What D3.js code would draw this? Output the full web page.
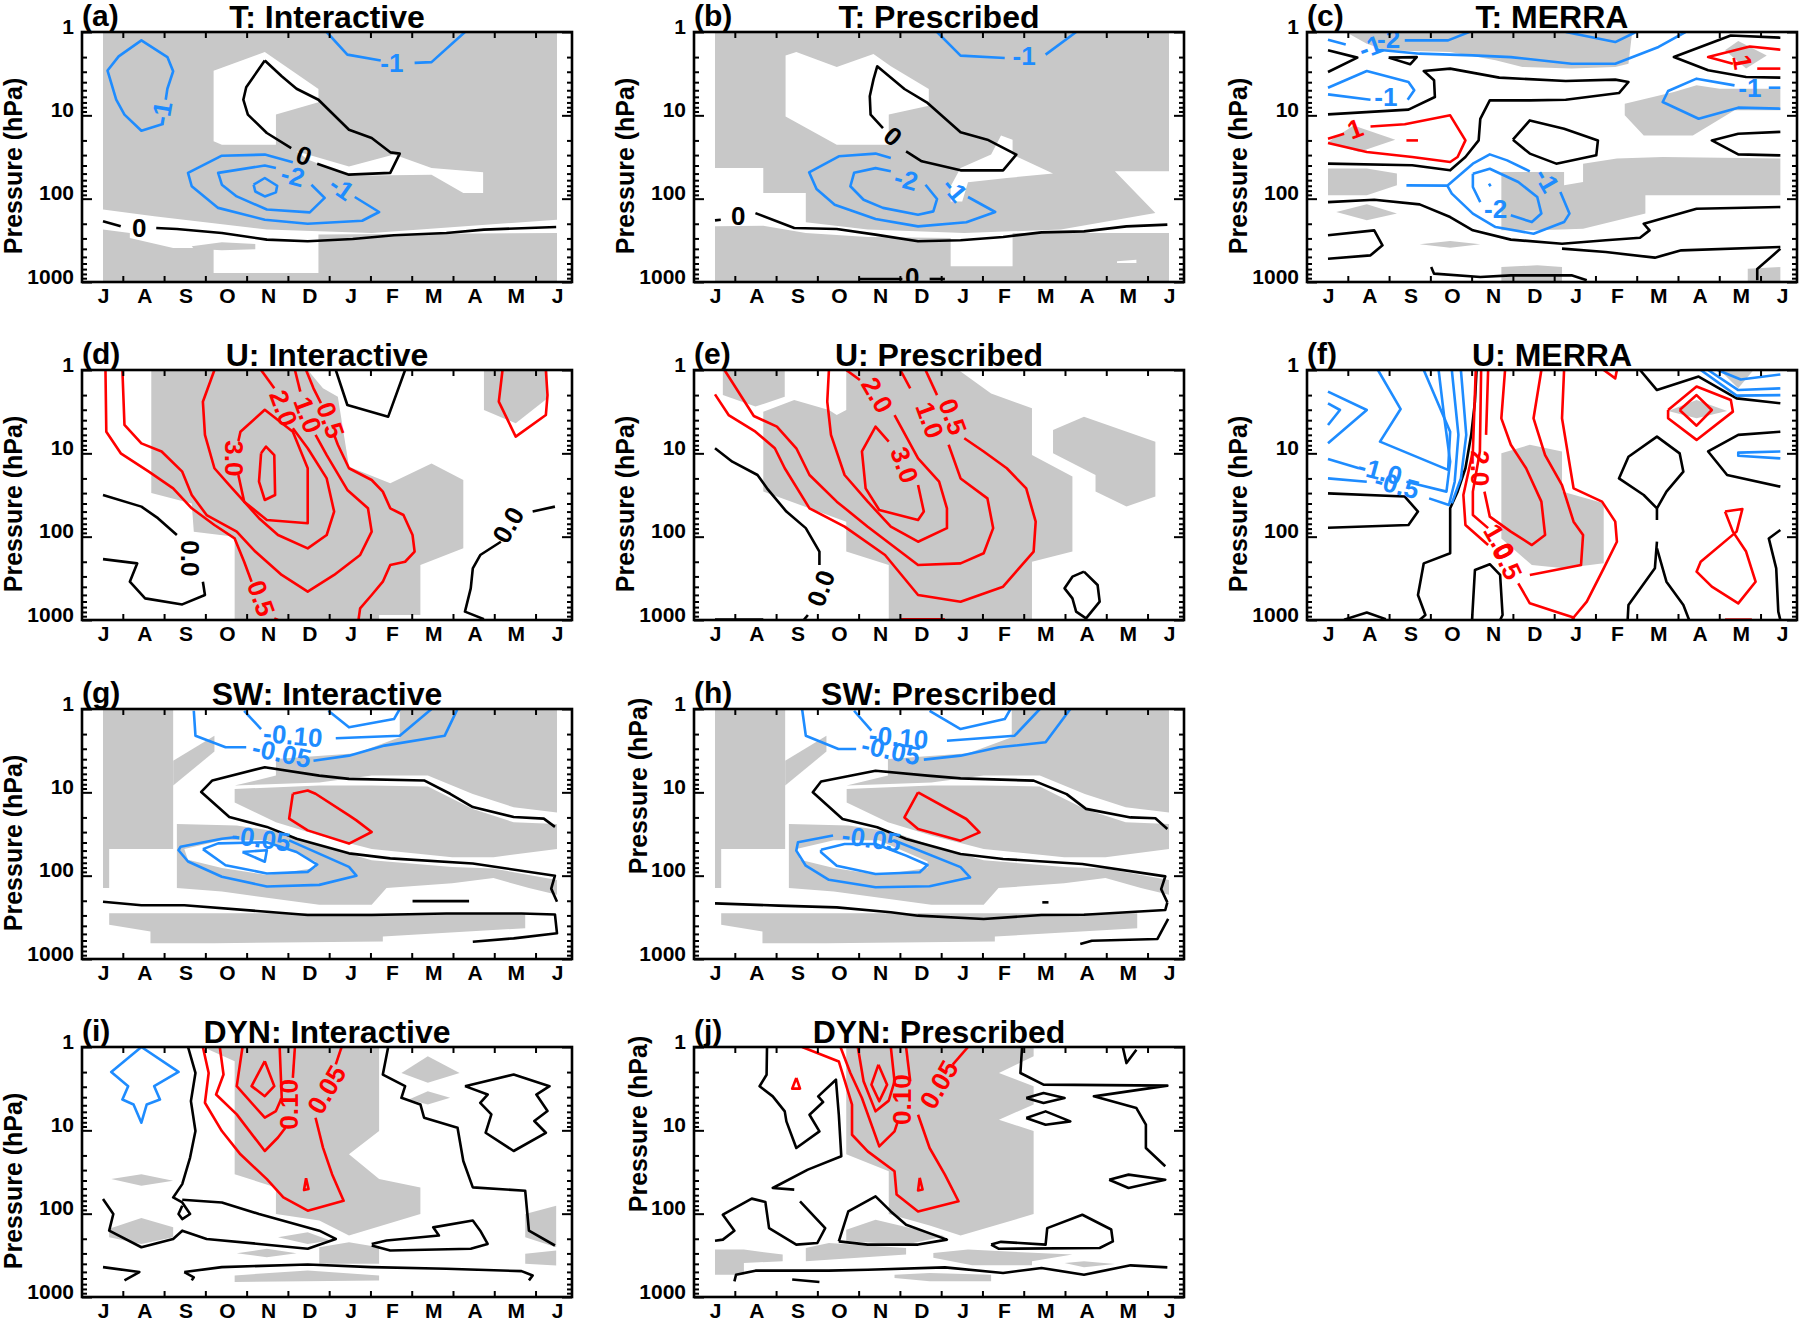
<!DOCTYPE html>
<html>
<head>
<meta charset="utf-8">
<script src="https://cdn.jsdelivr.net/npm/d3@7"></script>
<style>
body { margin: 0; background: #fff; }
text { font-family: "Liberation Sans", Arial, Helvetica, sans-serif; font-weight: bold; }
</style>
</head>
<body>
<svg id="chart"></svg>
<script>
// month labels (July to June) and pressure ticks
const months = ['J', 'A', 'S', 'O', 'N', 'D', 'J', 'F', 'M', 'A', 'M', 'J']
const pressureTicks = [1, 10, 100, 1000]
const minorTicks = [2, 3, 4, 5, 6, 7, 8, 9, 20, 30, 40, 50, 60, 70, 80, 90, 200, 300, 400, 500, 600, 700, 800, 900]
const monthEdges = [0.48, 1.48, 2.48, 3.48, 4.48, 5.48, 6.48, 7.48, 8.48, 9.48, 10.48]

// every point is [month index (0 = July), pressure hPa]
const full = [[0, 1], [11, 1], [11, 1000], [0, 1000]]

// (a) T: Interactive
const aShade = [full]
const aClear = [
  [[2.68, 2.91], [3.92, 1.74], [5.22, 4.83], [5.22, 6.98], [4.19, 9.8], [4.19, 22.5], [2.88, 22.5], [2.68, 20.5]],
  [[4.69, 27], [5.96, 41], [7.05, 29.6], [7.96, 42.9], [9.21, 48.3], [9.21, 85.5], [8.73, 85.5], [7.96, 51.5], [5.96, 53], [4.96, 34]],
  [[0, 135], [1.24, 163], [3.97, 235], [6.51, 258], [11, 179], [11, 258], [5.22, 270], [5.22, 780], [2.68, 780], [2.68, 391], [1.7, 391], [0.65, 297], [0.65, 258], [0, 235]]
]
const aInner = [[[2.15, 373], [2.88, 334], [3.69, 350], [3.69, 405], [2.88, 417], [2.2, 400]]]
const aBlue = [
  [[1.47, 12.6], [0.93, 15.3], [0.52, 9.8], [0.32, 6.5], [0.11, 2.9], [0.38, 1.96], [0.93, 1.26], [1.56, 2.0], [1.7, 2.96], [1.56, 4.8], [1.52, 6.5]],
  [[5.42, 1], [5.92, 1.87], [6.73, 2.2]],
  [[7.55, 2.35], [7.96, 2.3], [8.77, 1]],
  [[6.1, 95.5], [6.69, 144.5], [6.28, 184], [4.96, 200], [3.92, 179], [2.79, 129], [2.15, 71], [2.06, 49], [2.88, 30.5], [3.92, 29.6], [4.6, 36.6]],
  [[5.05, 68], [5.37, 98], [5.01, 146], [3.97, 135], [3.24, 94], [2.88, 68], [2.79, 49], [3.92, 40], [4.19, 42.9]],
  [[3.65, 68], [3.92, 56.5], [4.22, 70], [4.19, 84], [3.92, 94], [3.69, 82], [3.65, 68]]
]
const aBlueLabels = [[1.42, 9.4, '-1', -80], [7.0, 2.35, '-1', 0], [5.78, 74.5, '-1', 35], [4.6, 53, '-2', 15]]
const aBlack = [
  [[3.92, 2.2], [4.33, 3.4], [4.69, 4.8], [5.22, 6.5], [5.96, 14.9], [6.51, 18.7], [6.96, 27.8], [7.19, 28.8], [6.96, 49], [5.96, 51.5], [5.19, 38]],
  [[4.56, 24.7], [3.97, 16.3], [3.51, 9.8], [3.4, 6.5], [3.47, 4.6], [3.92, 2.2]],
  [[0, 187], [0.43, 215]],
  [[1.29, 225], [1.79, 231], [2.88, 258], [3.97, 310], [4.96, 325], [6.05, 305], [7.05, 275], [8.32, 258], [9.23, 235], [10.98, 219]]
]
const aBlackLabels = [[4.87, 30.5, '0', 20], [0.88, 225, '0', 0]]

// (b) T: Prescribed
const bShade = [full]
const bClear = [
  [[1.71, 1.92], [1.97, 1.74], [2.95, 2.63], [3.84, 1.84], [4.26, 2.58], [5.18, 4.83], [5.18, 7.65], [4.21, 9.8], [4.21, 22.5], [2.95, 22.5], [1.71, 10.3]],
  [[6.93, 17.5], [7.21, 19.6], [7.21, 29.6], [8.19, 50], [7.07, 56.5], [6.13, 63.7], [5.99, 108], [5.71, 108], [5.71, 71], [5.95, 42.9], [6.69, 29.6]],
  [[0, 42.9], [1.17, 42.9], [1.17, 85.5], [2.2, 85.5], [2.2, 192], [3.7, 235], [6.04, 258], [8.38, 235], [10.67, 149], [9.69, 47], [11, 47], [11, 258], [7.21, 258], [7.21, 649], [5.71, 649], [5.71, 297], [3.7, 288], [2.2, 258], [1.17, 211], [0, 215]],
  [[9.74, 565], [10.21, 540], [10.21, 592], [9.74, 592]]
]
const bBlue = [
  [[5.38, 1], [5.95, 1.92], [7.02, 2.05]],
  [[8.01, 1.87], [8.75, 1]],
  [[6.13, 95.5], [6.79, 144.5], [6.09, 192], [4.92, 215], [3.89, 175], [2.9, 118], [2.46, 76.6], [2.28, 48.3], [3.0, 31], [3.89, 28.8], [4.26, 32.5]],
  [[5.1, 68], [5.38, 101], [5.29, 142], [4.92, 156], [4.07, 129], [3.6, 103], [3.28, 71], [3.37, 49], [3.89, 43], [4.26, 47]]
]
const bBlueLabels = [[7.49, 1.96, '-1', 0], [5.81, 78, '-1', 50], [4.63, 59, '-2', 15]]
const bBlack = [
  [[4.63, 27], [5.01, 35.6], [5.95, 45.7], [6.98, 45.7], [7.3, 29.6], [6.6, 19.6], [5.95, 16], [5.15, 7.1], [4.59, 4.83], [3.93, 2.58], [3.84, 3.7], [3.75, 5.9], [3.77, 9.8], [4.07, 14.2]],
  [[0, 182], [0.14, 179]],
  [[0.98, 149], [1.92, 225], [2.95, 231], [3.89, 270], [4.92, 325], [5.95, 316], [6.98, 288], [7.91, 254], [8.94, 247], [9.97, 215], [10.96, 205]],
  [[3.51, 920], [4.54, 920]],
  [[5.2, 920], [5.57, 920]]
]
const bBlackLabels = [[4.31, 17.9, '0', 40], [0.56, 160, '0', 0], [4.78, 871, '0', 0]]

// (c) T: MERRA
const cShade = [
  [[0.43, 1], [7.37, 1], [7.28, 2.4], [6.96, 2.63], [5.9, 2.75], [4.71, 2.63], [4.06, 2.19], [2.96, 1.74], [1.4, 1.66], [0.94, 1.38]],
  [[9.62, 1.66], [9.94, 1.28], [10.63, 1.91], [10.13, 2.75]],
  [[7.19, 7.24], [8.38, 5.25], [8.93, 4.37], [9.49, 4.79], [10.96, 4.79], [10.96, 8.7], [9.85, 8.7], [8.84, 17.4], [7.65, 17.4], [7.19, 10]],
  [[0, 20.9], [0.62, 13.2], [1.63, 19.6], [0.75, 27.5]],
  [[0, 43.6], [0.94, 43.6], [1.67, 50], [1.67, 69], [0.94, 91], [0, 91]],
  [[4.2, 47.9], [5.72, 47.9], [5.72, 69], [6.18, 63], [6.18, 38], [7.0, 33], [8.11, 31.6], [10.96, 33], [10.96, 91], [7.69, 91], [7.69, 151], [6.18, 229], [5.07, 240], [4.2, 240]],
  [[0.2, 145], [0.94, 117], [1.67, 151], [0.94, 182]],
  [[2.22, 353], [2.96, 322], [3.69, 353], [2.96, 387]],
  [[4.2, 661], [5.07, 631], [5.67, 661], [5.67, 1000], [4.2, 1000]],
  [[10.17, 692], [10.96, 661], [10.96, 1000], [10.17, 1000]]
]
const cBlue = [
  [[0, 1.24], [0.43, 1.41]],
  [[1.86, 1.26], [2.91, 1.26], [3.42, 1.0]],
  [[1.21, 1.63], [2.22, 1.82], [3.51, 1.91], [4.43, 2.0], [5.9, 2.4], [6.96, 2.4], [8.01, 1.51], [8.66, 1.0]],
  [[5.76, 1.0], [6.96, 1.32], [7.46, 1.0]],
  [[1.93, 6.49], [2.09, 5.01], [1.95, 3.98], [0.94, 2.94], [0, 4.66]],
  [[1.03, 6.49], [0, 5.6]],
  [[10.96, 4.66], [10.68, 4.66]],
  [[9.85, 4.37], [8.93, 3.63], [8.24, 5.1], [8.11, 6.92], [8.98, 11], [9.94, 8.09], [10.96, 8.32]],
  [[1.9, 69.2], [2.89, 69.8], [3.51, 38], [3.92, 29.4], [4.34, 34.7], [4.89, 47]],
  [[5.63, 83.2], [5.85, 151], [5.72, 191], [4.98, 263], [4.06, 219], [3.51, 151], [3.0, 87.1], [2.89, 69.8]],
  [[3.51, 50.1], [3.92, 43.7], [4.61, 63.1], [5.07, 95.5], [5.17, 151], [4.94, 191], [4.43, 158]],
  [[3.69, 110], [3.51, 72.4], [3.51, 50.1]],
  [[3.9, 66], [3.94, 71]]
]
const cBlueLabels = [[1.03, 1.51, '-1', -20], [1.47, 1.2, '-2', 0], [1.4, 6.03, '-1', 0], [10.22, 4.66, '-1', 0], [5.3, 60.3, '-1', 60], [4.06, 132, '-2', 0]]
const cRed = [
  [[0, 19.1], [0.39, 16.6]],
  [[1.03, 13.6], [1.86, 12.8], [2.96, 10], [3.33, 20], [3.14, 31.6], [2.96, 36.3], [2.04, 31.6], [0.94, 27.5], [0, 21.5]],
  [[1.9, 20], [2.18, 20]],
  [[10.96, 1.63], [10.22, 1.49], [9.21, 2.0], [9.81, 2.4]],
  [[10.4, 2.75], [10.96, 2.75]]
]
const cRedLabels = [[0.66, 14.5, '1', -20], [10.04, 2.29, '1', 80]]
const cBlack = [
  [[0, 1.66], [0.71, 2.03], [0, 3.02]],
  [[1.47, 2.03], [2.15, 2.0], [1.99, 2.44], [1.47, 2.03]],
  [[0, 9.73], [1.95, 8.55], [2.59, 6.03], [2.57, 3.8], [2.32, 2.94], [2.96, 2.75], [4.15, 3.53], [5.76, 3.87], [6.96, 3.73], [7.28, 3.98], [7.05, 5.4], [5.76, 6.49], [4.89, 6.61], [3.92, 6.61], [3.69, 11], [3.65, 20], [3.33, 31.6], [2.96, 45.7], [2.04, 39.8], [0, 38]],
  [[4.48, 19.6], [4.89, 11.5], [5.72, 14.5], [6.54, 20], [6.5, 30.2], [5.53, 38], [4.89, 28.8], [4.48, 19.6]],
  [[10.96, 1.17], [9.76, 1.1], [8.38, 2.0], [9.21, 2.88], [10.13, 3.47], [10.96, 3.53]],
  [[10.96, 15.8], [9.94, 16.6], [9.3, 20], [9.94, 29.4], [10.96, 30.2]],
  [[0, 110], [1.12, 103], [2.22, 117], [2.96, 166], [3.51, 240], [4.43, 310], [5.67, 347], [6.73, 316], [7.56, 294], [7.79, 240], [7.65, 200], [8.93, 132], [10.96, 126]],
  [[0, 275], [1.12, 240], [1.32, 363], [1.03, 479], [0, 525]],
  [[5.67, 398], [6.73, 437], [7.92, 510], [8.56, 417], [10.96, 380]],
  [[2.5, 661], [2.57, 794], [3.69, 871], [4.43, 832], [5.9, 832], [6.27, 955]],
  [[10.4, 955], [10.4, 700], [10.96, 400]]
]

// (d) U: Interactive
const dShade = [
  [[1.17, 1], [4.96, 1], [5.33, 1.66], [5.69, 2.09], [5.96, 14.5], [6.96, 22.9], [7.96, 13.2], [8.73, 20.9], [8.73, 138], [7.69, 219], [7.69, 871], [6.69, 871], [6.69, 1000], [3.19, 1000], [3.19, 100], [2.2, 87], [2.15, 40], [1.17, 30]],
  [[9.23, 1], [10.77, 1], [10.77, 2.19], [10.0, 4.37], [9.23, 3.02]]
]
const dRed = [
  [[0.06, 1], [0.08, 5.5], [0.43, 10], [1.11, 16.6], [1.7, 26.3], [2.15, 45.7], [2.7, 72.4], [3.19, 105], [3.42, 200], [3.6, 347]],
  [[4.15, 955], [4.24, 1000]],
  [[6.19, 1000], [6.23, 724], [6.51, 501], [6.78, 347], [6.96, 219], [7.32, 200], [7.55, 151], [7.5, 95.5], [7.28, 55], [6.96, 45.7], [6.78, 28.8], [6.51, 20.9], [5.96, 15.1], [5.69, 7.9], [5.6, 6.0]],
  [[5.28, 2.5], [5.1, 1.66], [4.92, 1]],
  [[4.65, 1], [4.78, 1.82]],
  [[5.15, 6.0], [5.42, 10.5], [5.92, 27.5], [6.42, 45.7], [6.51, 87], [6.23, 166], [5.6, 288], [4.96, 457], [4.33, 288], [3.69, 151], [3.24, 87], [2.51, 55], [2.15, 31.6], [1.92, 16.6], [1.42, 9.5], [0.93, 7.6], [0.52, 4.57], [0.47, 1]],
  [[3.83, 1], [4.15, 1.66]],
  [[4.6, 5.0], [4.96, 8.7], [5.42, 20], [5.6, 50], [5.42, 95.5], [4.96, 138], [4.24, 95.5], [3.78, 60], [3.06, 24], [2.7, 15.1], [2.47, 6.0], [2.42, 2.4], [2.7, 1]],
  [[3.28, 18.2], [3.42, 38], [3.97, 63], [4.96, 69], [4.96, 15.1], [4.6, 5.5], [3.92, 3.0], [3.33, 5.5], [3.28, 7.1]],
  [[3.83, 10], [3.95, 8.3], [4.15, 10.5], [4.17, 31.6], [3.92, 36.3], [3.78, 21.9], [3.83, 10]],
  [[9.68, 1], [9.59, 2.4], [10.0, 6.3], [10.73, 3.47], [10.77, 2.0], [10.73, 1]]
]
const dRedLabels = [[3.83, 550, '0.5', 70], [5.51, 4.0, '0.5', 70], [4.96, 3.47, '1.0', 70], [4.37, 2.88, '2.0', 70], [3.17, 11.5, '3.0', 90]]
const dBlack = [
  [[5.64, 1], [5.92, 2.63], [6.91, 3.63], [7.32, 1]],
  [[0, 31.6], [0.93, 43.6], [1.33, 60], [1.79, 95.5]],
  [[2.42, 347], [2.47, 501], [1.92, 650], [1.02, 550], [0.65, 347], [0.83, 209], [0, 186]],
  [[10.95, 43.6], [10.41, 50]],
  [[9.64, 115], [9.14, 166], [8.96, 240], [8.91, 417], [8.77, 794], [9.23, 977]]
]
const dBlackLabels = [[2.11, 182, '0.0', 90], [9.82, 72.4, '0.0', -60]]

// (e) U: Prescribed
const eShade = [
  [[0.19, 1], [1.69, 1], [1.69, 2.09], [0.98, 2.75], [0.19, 2.0]],
  [[1.17, 3.16], [1.92, 2.29], [2.76, 3.02], [2.95, 3.47], [3.18, 3.02], [3.18, 1], [5.9, 1], [6.69, 1.91], [7.68, 2.88], [7.68, 10.5], [8.66, 19], [8.66, 151], [7.68, 200], [7.68, 1000], [4.21, 1000], [4.21, 219], [3.18, 151], [3.18, 66], [1.17, 28.8]],
  [[8.19, 5.25], [8.94, 3.63], [10.67, 7.24], [10.67, 33], [9.97, 43.6], [9.22, 28.8], [9.22, 18.2], [8.19, 10]]
]
const eRed = [
  [[0, 1.96], [0.33, 3.47], [0.98, 5.5], [1.45, 8.7], [1.69, 15.1], [2.29, 45.7], [3.14, 75.9], [4.12, 166], [4.92, 501], [5.95, 603], [6.98, 398], [7.72, 151], [7.77, 66], [7.54, 26.3], [7.07, 15.1], [6.51, 9.5], [6.04, 6.6]],
  [[5.38, 2.0], [5.1, 1]],
  [[0.23, 1], [0.94, 3.56], [1.5, 4.79], [1.97, 8.7], [2.29, 18.2], [2.95, 38], [3.7, 75.9], [4.92, 219], [5.95, 209], [6.51, 158], [6.74, 79], [6.6, 34.7], [5.95, 20], [5.66, 7.9]],
  [[4.73, 1.66], [4.49, 1]],
  [[3.18, 1], [3.51, 1.32]],
  [[4.35, 3.47], [4.92, 11.5], [5.43, 21.9], [5.62, 45.7], [5.62, 79], [4.92, 115], [4.26, 75.9], [3.7, 38], [3.14, 18.2], [2.81, 6.0], [2.72, 2.4], [2.76, 1]],
  [[4.92, 24], [5.06, 50], [4.92, 63], [3.98, 47.9], [3.65, 26.3], [3.56, 9.5], [3.89, 4.79], [4.21, 7.24]],
  [[4.49, 980], [5.57, 980]]
]
const eRedLabels = [[5.76, 3.63, '0.5', 70], [5.2, 4.0, '1.0', 70], [3.93, 2.0, '2.0', 60], [4.59, 13.8, '3.0', 70]]
const eBlack = [
  [[0, 8.7], [0.42, 12.6], [1.03, 18.2], [1.26, 26.3], [1.73, 50], [2.2, 79], [2.53, 151], [2.53, 219]],
  [[2.25, 871], [2.15, 1000]],
  [[8.94, 263], [9.27, 380], [9.32, 603], [8.99, 955], [8.75, 794], [8.66, 550], [8.47, 417], [8.66, 302], [8.94, 263]],
  [[0, 985], [1.17, 985]]
]
const eBlackLabels = [[2.57, 417, '0.0', -70]]

// (f) U: MERRA
const fShade = [
  [[4.2, 10], [4.89, 7.9], [5.67, 9.5], [5.67, 28.8], [6.68, 39.8], [6.68, 209], [5.72, 240], [4.94, 219], [4.2, 105]],
  [[8.24, 3.1], [8.93, 2.29], [9.67, 3.1], [8.93, 3.8]],
  [[9.49, 1], [10.31, 1], [9.94, 1.66]]
]
const fBlue = [
  [[0, 2.51], [0.29, 3.02], [0, 4.57]],
  [[0, 1.82], [0.94, 3.02], [0, 7.59]],
  [[1.21, 1], [1.76, 2.94], [1.26, 7.24], [2.91, 15.8], [2.96, 5.5], [2.32, 1]],
  [[2.68, 1], [2.82, 3.8], [2.96, 12.6], [2.87, 28.8], [2.22, 24], [1.9, 21.9]],
  [[0.75, 15.1], [0, 11.7]],
  [[3.0, 1], [3.16, 6.0], [3.07, 21.9], [2.93, 41.7], [2.45, 34.7]],
  [[0.94, 21.9], [0, 20]],
  [[3.22, 1], [3.35, 6.0], [3.22, 20], [3.0, 39.8]],
  [[9.03, 1], [9.9, 2.03], [10.96, 2.0]],
  [[9.21, 1], [9.94, 1.74], [10.96, 1.66]],
  [[9.44, 1], [10.0, 1.3], [10.96, 1.13]],
  [[10.96, 9.5], [9.94, 9.8], [9.94, 10.7], [10.96, 11.5]]
]
const fBlueLabels = [[1.26, 16.3, '-1.0', 15], [1.67, 24, '-0.5', 15]]
const fBlack = [
  [[3.6, 1], [3.56, 2.4], [3.47, 6.0], [3.33, 15.1], [3.14, 28.8], [2.96, 45.7], [2.96, 158], [2.32, 209], [2.18, 501], [2.36, 871], [2.22, 1000]],
  [[0, 30.2], [1.86, 33], [2.18, 50], [1.95, 72.4], [0, 78]],
  [[3.49, 1000], [3.56, 251], [3.92, 214], [4.17, 288], [4.23, 871], [4.17, 1000]],
  [[7.56, 1], [7.97, 1.74], [8.98, 1.2], [9.9, 2.19], [10.96, 2.51]],
  [[7.97, 63], [7.97, 45.7], [8.2, 28.8], [8.61, 16.6], [8.52, 10], [7.97, 6.3], [7.28, 11], [7.05, 20], [7.65, 31.6], [7.97, 45.7]],
  [[7.97, 115], [7.92, 240], [7.28, 661], [7.26, 1000]],
  [[7.97, 138], [8.2, 347], [8.61, 661], [8.75, 1000]],
  [[10.96, 5.5], [9.94, 6.0], [9.21, 9.5], [9.67, 18.2], [10.96, 25.1]],
  [[10.96, 83], [10.68, 105], [10.86, 240], [10.91, 794], [10.96, 1000]],
  [[0.39, 990], [0.94, 813], [1.4, 977]]
]
const fRed = [
  [[3.58, 1], [3.51, 9.5], [3.28, 31.6], [3.33, 72.4], [3.88, 126]],
  [[4.61, 363], [4.89, 631], [5.63, 832], [5.95, 933], [6.27, 603], [6.68, 240], [7.0, 115], [6.96, 66], [6.64, 38], [5.95, 26.3], [5.67, 3.8], [5.72, 1]],
  [[3.71, 1], [3.68, 9.5], [3.51, 28.8], [3.51, 55], [3.88, 79]],
  [[4.89, 288], [6.13, 219], [6.18, 95.5], [5.95, 66], [5.67, 24], [5.26, 10.5], [4.98, 3.8], [5.17, 1]],
  [[3.88, 1], [3.83, 6.0]],
  [[3.79, 28.8], [3.92, 57.5], [4.43, 87], [4.94, 126], [5.26, 95.5], [5.17, 38], [4.8, 15.1], [4.43, 7.9], [4.2, 3.8], [4.29, 1]],
  [[6.68, 1], [6.96, 1.26], [7.0, 1]],
  [[8.24, 3.02], [8.93, 1.58], [9.76, 2.29], [9.81, 3.16], [8.93, 6.9], [8.24, 3.8], [8.24, 3.02]],
  [[8.52, 3.02], [8.93, 2.0], [9.3, 3.02], [8.93, 4.66], [8.52, 3.02]],
  [[9.62, 50], [10.04, 46.6], [9.9, 87], [9.03, 200], [8.93, 263], [9.3, 398], [9.94, 631], [10.36, 347], [10.13, 151], [9.81, 87], [9.62, 50]],
  [[9.62, 990], [10.27, 990]],
  [[5.9, 965], [5.98, 965]]
]
const fRedLabels = [[4.34, 200, '0.5', 65], [4.15, 115, '1.0', 60], [3.68, 15.1, '2.0', 90]]

// (g) SW: Interactive
const gShade = [
  [[0, 1], [1.7, 1], [1.7, 47.9], [0.15, 47.9], [0.15, 141], [0, 141]],
  [[1.7, 4.17], [2.7, 2.09], [2.7, 3.24], [1.7, 8.3]],
  [[3.19, 8.3], [4.19, 6.3], [4.19, 3.98], [6.14, 3.39], [7.19, 2.19], [7.19, 1], [11, 1], [11, 17.4], [9.95, 15.1], [8.96, 10.5], [7.87, 6.3], [6.51, 6.3], [5.24, 7.6]],
  [[3.19, 9.1], [5.24, 8.3], [6.51, 8.3], [7.87, 8.5], [8.96, 15.8], [9.95, 22.9], [11, 24], [11, 47.9], [9.46, 60], [8.46, 60], [6.51, 47.9], [5.24, 33], [4.19, 22.9], [3.19, 13.2]],
  [[1.79, 24], [3.24, 25], [4.33, 30.2], [5.24, 43.2], [6.51, 65.3], [8.46, 78.5], [9.46, 82.2], [11, 113], [11, 170], [10.32, 141], [9.46, 107], [8.46, 123], [6.87, 141], [6.51, 224], [5.24, 224], [2.88, 155], [1.79, 141]],
  [[0.15, 282], [10.23, 282], [10.23, 427], [6.78, 537], [6.78, 617], [2.7, 646], [1.15, 646], [1.15, 468], [0.15, 389]]
]
const gClear = [[[1.97, 47.9], [2.88, 37.7], [3.97, 37.7], [5.15, 67.6], [5.15, 81], [3.97, 98], [2.88, 81], [2.06, 64.6]]]
const gBlue = [
  [[2.2, 1.05], [2.24, 2.09], [2.97, 2.88], [3.47, 2.88]],
  [[3.42, 1.05], [3.83, 1.74]],
  [[5.46, 1.05], [5.96, 1.66], [7.05, 1.32], [7.19, 1]],
  [[5.64, 2.24], [7.19, 2.09], [7.96, 1]],
  [[5.1, 4.17], [5.96, 3.63], [6.82, 2.75], [8.28, 2.09], [8.59, 1]],
  [[4.51, 37.7], [5.96, 78.5], [6.14, 100], [5.24, 129], [3.97, 135], [2.88, 103], [2.06, 67.6], [1.83, 49.5], [1.88, 45], [2.88, 36], [3.24, 34.4]],
  [[2.42, 48], [2.79, 41], [3.97, 39.8], [4.69, 52], [5.19, 73.6], [4.96, 90], [3.97, 94], [2.97, 75], [2.42, 48]],
  [[3.38, 52], [3.97, 49.5], [3.92, 68], [3.38, 52]]
]
const gBlueLabels = [[4.6, 2.09, '-0.10', 5], [4.33, 3.39, '-0.05', 12], [3.83, 36, '-0.05', 8]]
const gRed = [[[4.6, 10.4], [4.96, 9.5], [5.15, 10.4], [5.96, 18.9], [6.14, 21.7], [6.51, 29.9], [5.96, 41.2], [4.96, 28.6], [4.51, 20.7], [4.6, 10.4]]]
const gBlack = [
  [[10.95, 26], [10.68, 20.7], [9.95, 19.8], [8.96, 15], [8.41, 10.4], [7.78, 7.2], [5.96, 6.9], [5.24, 6.3], [3.92, 5.0], [2.65, 7.2], [2.38, 9.9], [3.06, 19.8], [3.97, 26], [4.69, 36], [5.96, 54], [6.96, 62], [8.96, 71.6], [10.95, 100], [10.86, 143], [11.0, 206]],
  [[0, 206], [0.93, 226], [1.97, 226], [3.97, 271], [4.96, 297], [6.51, 297], [8.32, 284], [10.14, 284], [10.95, 292], [11.0, 492], [9.95, 565], [8.96, 620]],
  [[7.5, 202], [8.87, 202]]
]

// (h) SW: Prescribed
const hShade = gShade
const hClear = gClear
const hBlue = [
  [[2.11, 1], [2.2, 2.09], [2.99, 3.02], [3.42, 3.02]],
  [[3.37, 1.05], [3.79, 1.82]],
  [[5.2, 1.05], [5.95, 1.74], [7.02, 1.32], [7.16, 1]],
  [[5.62, 2.4], [7.26, 2.09], [7.87, 1]],
  [[5.06, 4.05], [5.95, 3.63], [6.88, 2.88], [8.01, 2.51], [8.61, 1]],
  [[4.45, 39.8], [5.95, 79], [6.18, 105], [5.2, 134], [3.89, 138], [2.76, 112], [2.2, 76], [1.97, 50], [2.01, 39.8], [2.86, 33]],
  [[2.57, 48.8], [3.14, 41.7], [3.89, 41.7], [4.63, 57.5], [5.15, 74.5], [4.96, 91], [3.89, 95.5], [2.95, 76], [2.57, 52.5], [2.57, 48.8]]
]
const hBlueLabels = [[4.45, 2.19, '-0.10', 5], [4.26, 3.16, '-0.05', 12], [3.79, 36.3, '-0.05', 8]]
const hRed = [[[4.92, 10], [6.09, 20.9], [6.41, 30.2], [5.95, 38], [4.92, 27.5], [4.59, 20], [4.92, 10]]]
const hBlack = [
  [[10.96, 27.5], [10.67, 20.5], [10.07, 20], [8.99, 15.8], [8.52, 10.5], [7.72, 7.24], [5.95, 6.8], [5.15, 6.3], [3.89, 5.5], [2.57, 7.4], [2.37, 10], [3.09, 20.9], [3.93, 26.3], [4.63, 36.3], [5.95, 55], [6.98, 63], [8.9, 72.4], [10.91, 102], [10.81, 145], [10.96, 209]],
  [[0, 215], [1.54, 229], [2.95, 240], [4.26, 275], [4.92, 302], [6.51, 331], [7.91, 297], [8.94, 294], [10.91, 258], [10.96, 209]],
  [[8.85, 661], [9.13, 603], [10.72, 575], [10.98, 331]],
  [[7.93, 209], [8.08, 209]]
]

// (i) DYN: Interactive
const iShade = [
  [[2.42, 1], [6.69, 1], [6.69, 10.2], [5.96, 19.4], [6.69, 38.5], [7.69, 48.4], [7.69, 101], [5.96, 183], [5.24, 121], [4.19, 101], [4.19, 48.4], [3.19, 33.6], [3.19, 1.48]],
  [[7.23, 2.05], [7.87, 1.29], [8.64, 2.05], [7.87, 2.69]],
  [[7.41, 4.27], [7.87, 3.39], [8.41, 4.07], [7.87, 4.89]],
  [[0.2, 38.5], [0.93, 33.6], [1.7, 40.3], [0.93, 46.3]],
  [[0.15, 152], [0.93, 113], [1.7, 146], [1.7, 192], [0.93, 231], [0.15, 192]],
  [[4.24, 192], [4.96, 167], [5.51, 210], [4.96, 231]],
  [[3.24, 298], [3.97, 264], [4.69, 298], [3.97, 333]],
  [[5.24, 253], [5.96, 220], [6.69, 253], [6.69, 400], [5.24, 400]],
  [[3.19, 551], [4.96, 480], [6.69, 551], [6.69, 632], [3.19, 662]],
  [[10.23, 101], [10.98, 80.2], [10.98, 253], [10.23, 192]],
  [[10.23, 303], [10.98, 277], [10.98, 419], [10.23, 400]]
]
const iBlue = [[[0.93, 1], [1.83, 1.99], [1.24, 2.95], [1.38, 4.27], [1.06, 4.89], [0.93, 8.09], [0.74, 4.89], [0.47, 4.27], [0.61, 2.95], [0.2, 1.99], [0.93, 1]]]
const iRed = [
  [[2.42, 1], [2.56, 2.05], [2.47, 4.67], [2.88, 10.2], [3.33, 19.4], [3.97, 38.5], [4.37, 63.8], [4.96, 92], [5.83, 70], [5.55, 33.6], [5.33, 16.1], [5.15, 7.06]],
  [[5.64, 1.62], [5.78, 1]],
  [[2.83, 1], [2.92, 2.14], [2.74, 3.72], [3.24, 6.44], [3.92, 17.7], [4.24, 12.2], [4.42, 9.29]],
  [[4.6, 2.35], [4.65, 1]],
  [[3.38, 1], [3.24, 2.95], [3.92, 7.06], [4.19, 5.87], [4.33, 4.07], [4.28, 1]],
  [[3.92, 1.48], [4.15, 2.95], [3.92, 3.89], [3.6, 2.95], [3.92, 1.48]],
  [[4.92, 37.5], [4.98, 50.7], [4.87, 52.1], [4.92, 37.5]]
]
const iRedLabels = [[5.42, 3.24, '0.05', -60], [4.51, 4.89, '0.10', -90]]
const iBlack = [
  [[2.06, 1], [2.24, 2.05], [2.13, 4.46], [2.24, 10.2], [2.11, 21.2], [1.92, 44.2], [1.7, 63.8], [1.92, 73.3], [2.11, 101], [1.92, 116], [1.83, 101], [1.92, 80.2]],
  [[0, 66.8], [0.25, 101], [0.15, 160], [0.93, 253], [1.7, 201], [1.92, 160], [2.51, 201], [3.78, 231], [4.96, 264], [5.64, 201], [5.24, 160], [3.78, 101], [2.88, 73.3], [1.92, 68]],
  [[6.91, 1], [6.78, 2.14], [7.32, 2.95], [7.23, 4.07], [7.69, 4.89], [7.78, 7.06], [8.59, 9.29], [8.73, 23.3], [8.96, 48.4], [10.23, 53.1], [10.32, 160], [10.95, 241]],
  [[8.77, 2.95], [9.95, 2.14], [10.82, 2.95], [10.5, 3.72], [10.77, 5.87], [10.45, 7.73], [10.73, 10.7], [9.95, 17.7], [9.27, 10.7], [9.41, 6.44], [9.14, 4.67], [9.32, 3.72], [8.77, 2.95]],
  [[6.51, 231], [6.87, 210], [8.14, 183], [8.0, 146], [8.96, 121], [9.14, 160], [9.32, 231], [8.91, 264], [6.96, 277], [6.51, 241]],
  [[0, 438], [0.88, 502], [0.52, 632]],
  [[1.97, 502], [2.88, 438], [4.96, 407], [6.51, 438], [8.32, 459], [10.14, 489], [10.41, 551], [10.32, 632]],
  [[1.97, 502], [2.2, 580], [2.15, 632]]
]

// (j) DYN: Prescribed
const jShade = [
  [[3.18, 1], [7.72, 1], [7.72, 1.29], [6.88, 2.05], [7.72, 2.95], [7.72, 4.89], [6.88, 7.45], [7.72, 10.2], [7.72, 101], [5.95, 183], [5.2, 139], [4.21, 101], [4.21, 31], [3.18, 19.4]],
  [[3.18, 156], [3.89, 118], [5.57, 187], [4.63, 235], [3.18, 215]],
  [[0, 270], [0.7, 270], [1.64, 310], [1.64, 372], [0.7, 391], [0.7, 540], [0, 540]],
  [[2.2, 258], [2.76, 225], [4.63, 258], [4.63, 310], [2.2, 372]],
  [[5.29, 297], [6.13, 270], [8.66, 310], [7.68, 372], [7.68, 417], [6.23, 417], [5.29, 339]],
  [[4.35, 540], [5.2, 515], [6.69, 540], [6.69, 649], [5.2, 649], [4.35, 592]],
  [[8.47, 391], [8.94, 372], [9.69, 402], [8.94, 441]]
]
const jRed = [
  [[2.11, 1], [3.0, 1.49], [3.32, 4.92], [3.32, 11.3], [3.7, 17.9], [4.35, 31], [4.4, 59], [4.92, 94], [5.9, 71], [5.57, 34], [5.2, 16.3], [4.92, 6.5]],
  [[5.76, 1.63], [6.13, 1]],
  [[3.04, 1], [3.28, 2.05], [3.56, 4.09], [3.98, 15.6], [4.35, 10.3], [4.43, 7.8]],
  [[4.73, 2.58], [4.63, 1]],
  [[3.46, 1], [3.6, 2.58], [3.89, 5.92], [4.21, 4.4], [4.35, 2.58], [4.26, 1]],
  [[3.96, 1.63], [4.17, 2.83], [3.98, 4.48], [3.79, 2.83], [3.96, 1.63]],
  [[1.97, 2.35], [2.06, 3.16], [1.87, 3.16], [1.97, 2.35]],
  [[4.96, 37.2], [5.03, 51.3], [4.92, 52.6], [4.96, 37.2]]
]
const jRedLabels = [[5.43, 2.83, '0.05', -60], [4.54, 4.29, '0.10', -90]]
const jBlack = [
  [[1.26, 1], [1.25, 2.15], [1.08, 2.96], [1.4, 3.91], [1.69, 5.92], [1.73, 7.8], [1.97, 16.3], [2.53, 10.3], [2.29, 6.5], [2.62, 4.57], [2.5, 3.91], [2.93, 2.47], [3.0, 6.5], [3.06, 20.5], [2.25, 29.6], [1.4, 49.2], [1.92, 51.5]],
  [[0, 211], [0.19, 205], [0.47, 160], [0.19, 103], [0.89, 66], [1.22, 72.4], [1.31, 149], [1.97, 235], [2.48, 225], [2.67, 149], [2.06, 71]],
  [[3.0, 215], [3.23, 94], [3.89, 62], [4.26, 94], [4.63, 136], [5.62, 205], [4.92, 235], [3.7, 235], [3.0, 215]],
  [[7.44, 1], [7.4, 2.05], [7.96, 2.83], [10.96, 2.91], [9.18, 3.91], [10.21, 5.4], [10.44, 8.55], [10.44, 16.3], [10.91, 27]],
  [[7.54, 4.09], [7.96, 3.56], [8.47, 4.09], [7.96, 4.69], [7.54, 4.09]],
  [[7.54, 7.1], [8.01, 5.92], [8.61, 7.8], [8.01, 8.55], [7.54, 7.1]],
  [[9.88, 1], [9.97, 1.56], [10.21, 1.08]],
  [[9.55, 39.1], [10.02, 34], [10.91, 39.1], [10.02, 49.2], [9.55, 39.1]],
  [[6.69, 235], [6.93, 218], [8.01, 235], [8.05, 149], [8.9, 103], [9.6, 155], [9.64, 215], [9.32, 258], [6.88, 264], [6.69, 235]],
  [[0.47, 649], [0.51, 540], [0.98, 483], [2.76, 483], [3.7, 470], [5.57, 441], [6.98, 515], [7.91, 449], [8.94, 540], [10.07, 417], [10.96, 441]],
  [[1.87, 617], [2.53, 660]]
]

const panels = [
  { key: 'a', title: 'T: Interactive', col: 0, row: 0, shade: aShade, clear: aClear, inner: aInner, black: aBlack, blue: aBlue, red: [], blackLabels: aBlackLabels, blueLabels: aBlueLabels },
  { key: 'b', title: 'T: Prescribed', col: 1, row: 0, shade: bShade, clear: bClear, black: bBlack, blue: bBlue, red: [], blackLabels: bBlackLabels, blueLabels: bBlueLabels },
  { key: 'c', title: 'T: MERRA', col: 2, row: 0, shade: cShade, black: cBlack, blue: cBlue, red: cRed, blueLabels: cBlueLabels, redLabels: cRedLabels },
  { key: 'd', title: 'U: Interactive', col: 0, row: 1, shade: dShade, black: dBlack, blue: [], red: dRed, blackLabels: dBlackLabels, redLabels: dRedLabels },
  { key: 'e', title: 'U: Prescribed', col: 1, row: 1, shade: eShade, black: eBlack, blue: [], red: eRed, blackLabels: eBlackLabels, redLabels: eRedLabels },
  { key: 'f', title: 'U: MERRA', col: 2, row: 1, shade: fShade, black: fBlack, blue: fBlue, red: fRed, blueLabels: fBlueLabels, redLabels: fRedLabels },
  { key: 'g', title: 'SW: Interactive', col: 0, row: 2, shade: gShade, clear: gClear, black: gBlack, blue: gBlue, red: gRed, blueLabels: gBlueLabels },
  { key: 'h', title: 'SW: Prescribed', col: 1, row: 2, shade: hShade, clear: hClear, black: hBlack, blue: hBlue, red: hRed, blueLabels: hBlueLabels, lift: true },
  { key: 'i', title: 'DYN: Interactive', col: 0, row: 3, shade: iShade, black: iBlack, blue: iBlue, red: iRed, redLabels: iRedLabels },
  { key: 'j', title: 'DYN: Prescribed', col: 1, row: 3, shade: jShade, black: jBlack, blue: [], red: jRed, redLabels: jRedLabels, lift: true }
]

const W = 490, H = 250
const colX = [82, 694, 1307]
const rowY = [32, 370, 709, 1047]
const gray = '#c8c8c8'
const colors = { black: '#000000', blue: '#1e8cff', red: '#ff0000' }

const x = d3.scaleLinear().domain([0, 11]).range([21, 475])
const y = d3.scaleLog().domain([1, 1000]).range([0, H])

const svg = d3.select('#chart').attr('width', 1800).attr('height', 1324)

const area = d3.line().x(d => x(d[0])).y(d => y(d[1])).curve(d3.curveLinearClosed)
const path = d3.line().x(d => x(d[0])).y(d => y(d[1]))

function styleAxis(g, size) {
  g.select('.domain').remove()
  g.selectAll('line').attr('stroke', '#000').attr('stroke-width', 2)
  g.attr('font-size', size).attr('font-family', null)
}

function drawPanel(p) {
  const g = svg.append('g').attr('transform', `translate(${colX[p.col]},${rowY[p.row]})`)

  g.append('clipPath').attr('id', 'clip-' + p.key)
    .append('rect').attr('width', W).attr('height', H)
  const plot = g.append('g').attr('clip-path', `url(#clip-${p.key})`)

  // significance shading
  plot.selectAll(null).data(p.shade).join('path').attr('d', area).attr('fill', gray)
  plot.selectAll(null).data(p.clear || []).join('path').attr('d', area).attr('fill', '#fff')
  plot.selectAll(null).data(p.inner || []).join('path').attr('d', area).attr('fill', gray)

  // contours
  for (const c of ['black', 'blue', 'red']) {
    plot.selectAll(null).data(p[c] || []).join('path')
      .attr('d', path)
      .attr('fill', 'none')
      .attr('stroke', colors[c])
      .attr('stroke-width', 2.6)
      .attr('stroke-linejoin', 'round')
    plot.selectAll(null).data(p[c + 'Labels'] || []).join('text')
      .attr('transform', d => `translate(${x(d[0])},${y(d[1])}) rotate(${d[3]})`)
      .attr('text-anchor', 'middle')
      .attr('dominant-baseline', 'central')
      .attr('font-size', 26)
      .attr('fill', colors[c])
      .text(d => d[2])
  }

  // axes: ticks point inward, like the original
  g.append('g').call(d3.axisLeft(y).tickValues(minorTicks).tickSize(-5).tickFormat(''))
    .call(a => styleAxis(a, 19))
  g.append('g').attr('transform', `translate(${W},0)`)
    .call(d3.axisRight(y).tickValues(minorTicks).tickSize(-5).tickFormat(''))
    .call(a => styleAxis(a, 19))
  g.append('g').attr('transform', `translate(${W},0)`)
    .call(d3.axisRight(y).tickValues(pressureTicks).tickSize(-10).tickFormat(''))
    .call(a => styleAxis(a, 19))
  g.append('g')
    .call(d3.axisLeft(y).tickValues(pressureTicks).tickSize(-10).tickPadding(8).tickFormat(d3.format('d')))
    .call(a => styleAxis(a, 21))
    .call(a => a.selectAll('text').attr('dy', '0.05em').attr('fill', '#000'))

  g.append('g').call(d3.axisTop(x).tickValues(monthEdges).tickSize(-6).tickFormat(''))
    .call(a => styleAxis(a, 20))
  g.append('g').attr('transform', `translate(0,${H})`)
    .call(d3.axisBottom(x).tickValues(monthEdges).tickSize(-6).tickFormat(''))
    .call(a => styleAxis(a, 20))
  g.append('g').attr('transform', `translate(0,${H})`)
    .call(d3.axisBottom(x).tickValues(d3.range(12)).tickSize(0).tickPadding(6).tickFormat((d, i) => months[i]))
    .call(a => styleAxis(a, 21))
    .call(a => a.selectAll('text').attr('fill', '#000'))

  g.append('rect').attr('width', W).attr('height', H)
    .attr('fill', 'none').attr('stroke', '#000').attr('stroke-width', 2.6)

  // panel letter and title
  g.append('text').attr('x', 0).attr('y', -6).attr('font-size', 30).text(`(${p.key})`)
  g.append('text').attr('x', W / 2).attr('y', -4).attr('text-anchor', 'middle')
    .attr('font-size', 32).text(p.title)

  // y axis title
  const yc = p.lift ? 77 : 134
  const xc = p.lift ? -47 : -60
  g.append('text')
    .attr('transform', `translate(${xc},${yc}) rotate(-90)`)
    .attr('text-anchor', 'middle')
    .attr('font-size', 25)
    .text('Pressure (hPa)')
}

panels.forEach(drawPanel)
</script>
</body>
</html>
